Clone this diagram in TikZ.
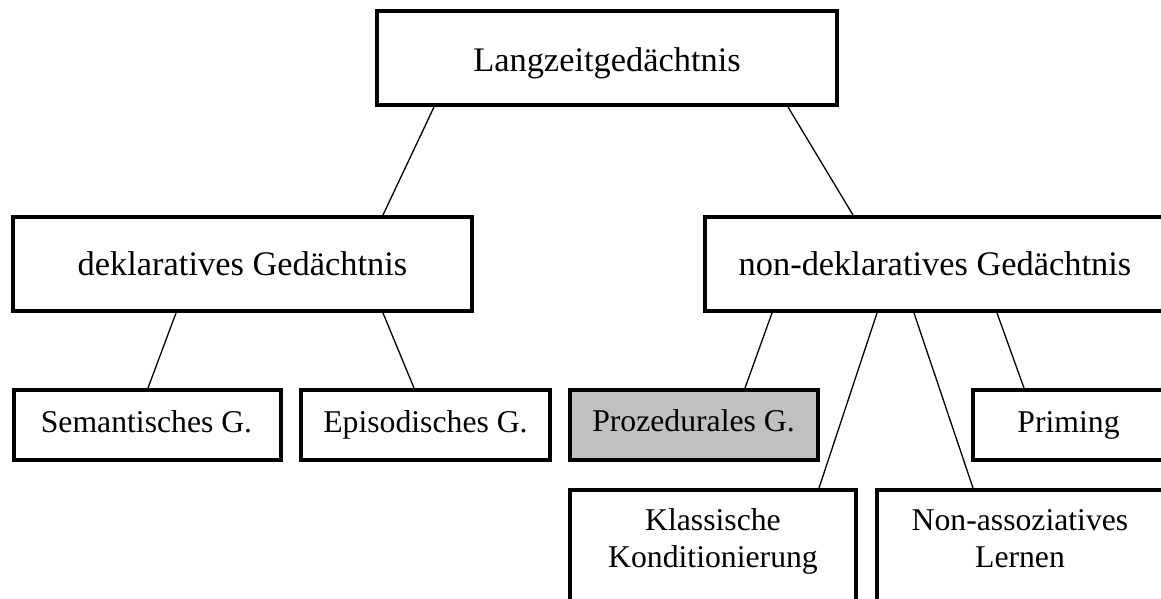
\documentclass[tikz,border=0pt]{standalone}
\usepackage{fontspec}
\setmainfont{Liberation Serif}
\begin{document}
\begin{tikzpicture}[x=1pt,y=-1pt,
  box/.style={draw, line width=4pt, rectangle, inner sep=0pt, fill=white},
  grey/.style={fill=boxgrey},
  conn/.style={line width=1.3pt},
  big/.style={font=\fontsize{34.4}{40}\selectfont, inner sep=0pt, anchor=base},
  small/.style={font=\fontsize{31.7}{37}\selectfont, inner sep=0pt, anchor=base, align=center}]
\definecolor{boxgrey}{HTML}{C0C0C0}
\path[use as bounding box, fill=white] (0,0) rectangle (1161,598);
\clip (0,0) rectangle (1161,598);

% boxes (centre, outer width/height minus line width)
\node[box, minimum width=460pt, minimum height=94pt] (top) at (607,58) {};
\node[box, minimum width=459pt, minimum height=94pt] (decl) at (242.5,264) {};
\node[box, minimum width=459pt, minimum height=94pt] (nondecl) at (934.5,264) {};
\node[box, minimum width=267pt, minimum height=70pt] (sem) at (147.5,425) {};
\node[box, minimum width=249pt, minimum height=70pt] (epi) at (425.5,425) {};
\node[box, grey, minimum width=248pt, minimum height=70pt] (proc) at (694,425) {};
\node[box, minimum width=191pt, minimum height=70pt] (prim) at (1068.5,425) {};
\node[box, minimum width=286pt, minimum height=126pt] (klass) at (713,553) {};
\node[box, minimum width=287pt, minimum height=126pt] (nonassoz) at (1020.5,553) {};

% texts
\node[big] (tTop) at (607,71) {Langzeitgedächtnis};
\node[big] (tDecl) at (242.5,275) {deklaratives Gedächtnis};
\node[big] (tNondecl) at (935,275) {non-deklaratives Gedächtnis};
\node[small] (tSem) at (146.5,432) {Semantisches G.};
\node[small] (tEpi) at (425.5,432) {Episodisches G.};
\node[small] (tProc) at (693.5,431) {Prozedurales G.};
\node[small] (tPrim) at (1068.5,432) {Priming};
\node[small] (tKlass) at (713,567) {Klassische\\Konditionierung};
\node[small] (tNonassoz) at (1020,567) {Non-assoziatives\\Lernen};

% connectors
\draw[conn] ([xshift=59pt]top.south west) -- ([xshift=372pt]decl.north west);
\draw[conn] ([xshift=413pt]top.south west) -- ([xshift=150pt]nondecl.north west);
\draw[conn] ([xshift=165pt]decl.south west) -- ([xshift=136pt]sem.north west);
\draw[conn] ([xshift=372pt]decl.south west) -- ([xshift=115pt]epi.north west);
\draw[conn] ([xshift=69pt]nondecl.south west) -- ([xshift=177pt]proc.north west);
\draw[conn] ([xshift=174pt]nondecl.south west) -- ([xshift=251pt]klass.north west);
\draw[conn] ([xshift=211pt]nondecl.south west) -- ([xshift=98pt]nonassoz.north west);
\draw[conn] ([xshift=294pt]nondecl.south west) -- ([xshift=53pt]prim.north west);
\end{tikzpicture}
\end{document}
